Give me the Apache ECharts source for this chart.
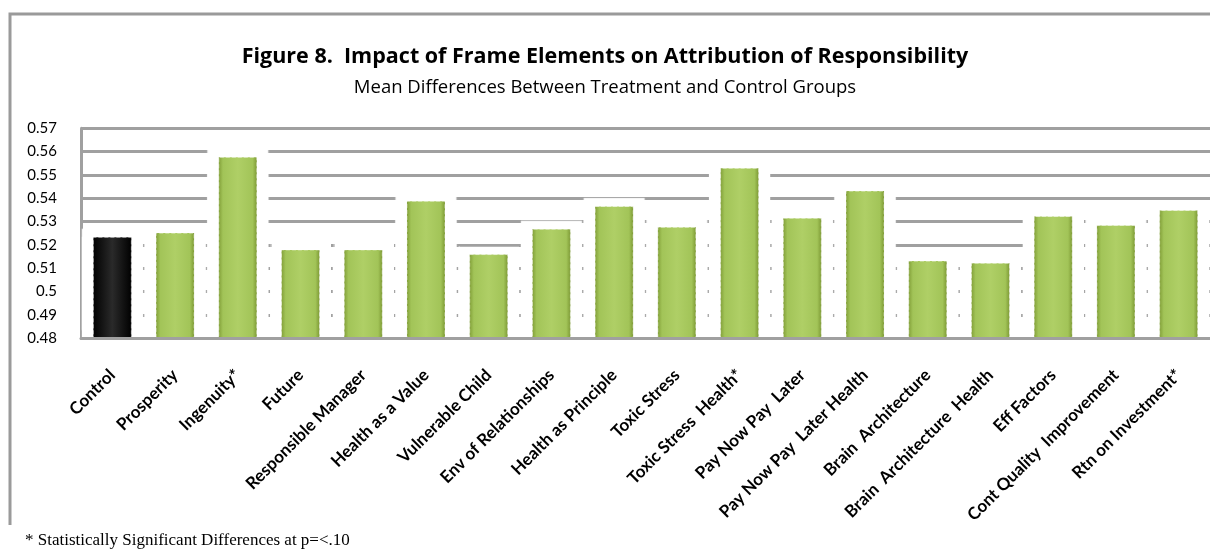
<!DOCTYPE html>
<html>
<head>
<meta charset="utf-8">
<script src="https://cdn.jsdelivr.net/npm/echarts@6/dist/echarts.min.js"></script>
<style>
html,body{margin:0;padding:0;background:#fff;}
#chart{width:1210px;height:557px;}
</style>
</head>
<body>
<div id="chart"></div>
<script>
var categories = ["Control","Prosperity","Ingenuity*","Future","Responsible Manager","Health as a Value","Vulnerable Child","Env of Relationships","Health as Principle","Toxic Stress","Toxic Stress  Health*","Pay Now Pay  Later","Pay Now Pay  Later Health","Brain  Architecture","Brain  Architecture  Health","Eff Factors","Cont Quality  Improvement","Rtn on Investment*"];
var values = [0.5235,0.5253,0.5578,0.5181,0.5181,0.539,0.5161,0.527,0.5367,0.5278,0.5531,0.5317,0.5433,0.5133,0.5124,0.5324,0.5286,0.535];
var yMin = 0.48, yMax = 0.57, yStep = 0.01;
var titleText = "Figure 8.  Impact of Frame Elements on Attribution of Responsibility";
var subtitleText = "Mean Differences Between Treatment and Control Groups";
var footnoteText = "* Statistically Significant Differences at p=<.10";

var greenFill = new echarts.graphic.LinearGradient(0,0,1,0,[
  {offset:0,color:'#7f9c36'},{offset:0.12,color:'#a2c458'},{offset:0.5,color:'#afcf66'},{offset:0.88,color:'#a2c458'},{offset:1,color:'#7a9632'}]);
var blackFill = new echarts.graphic.LinearGradient(0,0,1,0,[
  {offset:0,color:'#000'},{offset:0.5,color:'#2a2a2a'},{offset:1,color:'#000'}]);

var barData = values.map(function(v,i){
  return {value:v, itemStyle:{color: i===0 ? blackFill : greenFill}};
});

var chart = echarts.init(document.getElementById('chart'), null, {renderer:'canvas'});
chart.setOption({
  animation:false,
  title:[
    {text:titleText, left:'center', top:41, textStyle:{fontFamily:'Open Sans', fontWeight:'bold', fontSize:21.5, color:'#000'}},
    {text:subtitleText, left:'center', top:73, textStyle:{fontFamily:'Open Sans', fontWeight:'normal', fontSize:18.5, color:'#000'}}
  ],
  grid:{left:81, top:128.3, width:1137.6, height:210, containLabel:false},
  xAxis:[
    {type:'category', data:categories, z:5,
     axisLine:{show:true, lineStyle:{color:'#a0a0a0', width:3}},
     axisTick:{show:false},
     axisLabel:{rotate:45, interval:0, margin:34, fontFamily:'Lato', fontWeight:'bold', fontSize:17, color:'#000'}},
    {type:'category', data:categories, show:false}
  ],
  yAxis:{type:'value', min:yMin, max:yMax, interval:yStep,
     axisLine:{show:true, lineStyle:{color:'#a0a0a0', width:3}},
     axisTick:{show:false},
     splitLine:{show:true, lineStyle:{color:'#a0a0a0', width:3}},
     axisLabel:{margin:24, fontFamily:'Lato', fontSize:15, color:'#000'}},
  series:[
    {type:'bar', xAxisIndex:1, data:values, barWidth:61, silent:true, z:1,
     itemStyle:{color:'#fff', shadowColor:'#fff', shadowBlur:1, shadowOffsetY:-8}},
    {type:'bar', xAxisIndex:0, data:barData, barWidth:39, z:2,
     itemStyle:{borderColor:'rgba(255,255,255,0.5)', borderWidth:1, borderType:'dashed'}}
  ],
  graphic:[
    {type:'polyline', shape:{points:[[10,525],[10,14],[1215,14]]}, style:{stroke:'#9a9a9a', lineWidth:3, fill:null}},
    {type:'text', left:25, top:532, style:{text:footnoteText, font:'17px "Liberation Serif"', fill:'#000'}}
  ]
});
</script>
</body>
</html>
